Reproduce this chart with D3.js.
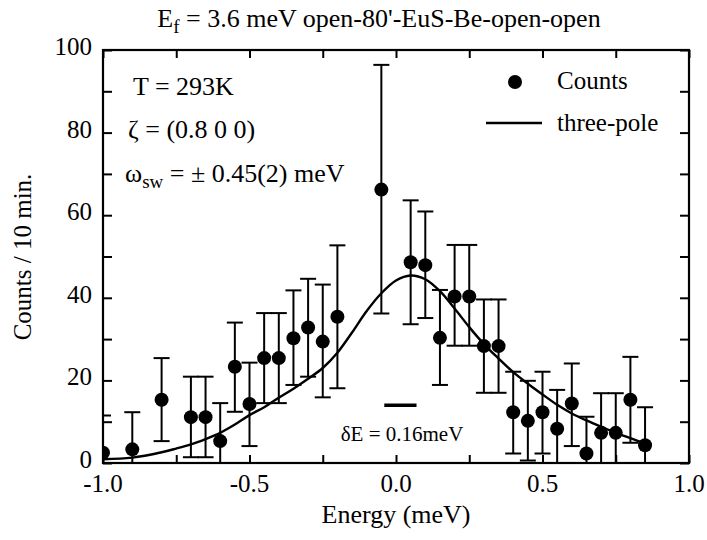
<!DOCTYPE html>
<html>
<head>
<meta charset="utf-8">
<script src="https://cdn.jsdelivr.net/npm/d3@7/dist/d3.min.js"></script>
<style>
  html, body { margin: 0; padding: 0; background: #fff; }
  svg text { font-family: "Liberation Serif", "Times New Roman", "DejaVu Serif", serif; fill: #000; }
</style>
</head>
<body>
<svg id="chart" width="707" height="540"></svg>
<script>
// ---- data ----
const energy = [-1.0, -0.9, -0.8, -0.7, -0.65, -0.6, -0.55, -0.5, -0.45, -0.4, -0.35, -0.3, -0.25, -0.2,
  -0.05, 0.05, 0.1, 0.15, 0.2, 0.25, 0.3, 0.35, 0.4, 0.45, 0.5, 0.55, 0.6, 0.65, 0.7, 0.75, 0.8, 0.85];
const counts = [2.5, 3.3, 15.3, 11.1, 11.1, 5.3, 23.3, 14.3, 25.4, 25.4, 30.2, 32.8, 29.4, 35.4,
  66.2, 48.6, 47.9, 30.3, 40.3, 40.3, 28.3, 28.3, 12.3, 10.2, 12.3, 8.3, 14.4, 2.3, 7.3, 7.3, 15.3, 4.3];
const errLow = [9, 9, 10, 9.7, 9.7, 9.5, 10.9, 10.2, 10.9, 10.9, 11.3, 11.9, 13.5, 17.3,
  30, 15, 12.8, 11.4, 11.9, 11.9, 11.3, 11.3, 10, 9.6, 10, 9.4, 10.3, 9, 9.6, 9.6, 10.4, 9.3];
const errHigh = [9, 9, 10.1, 9.8, 9.8, 9.2, 10.7, 10.0, 10.9, 10.9, 11.6, 11.8, 13.8, 17.3,
  30.2, 15.0, 13.0, 11.6, 12.5, 12.5, 11.3, 11.3, 9.8, 9.7, 9.8, 9.4, 9.7, 8.9, 9.6, 9.6, 10.4, 9.2];

const fitE = [-1.0, -0.9, -0.8, -0.75, -0.7, -0.65, -0.6, -0.55, -0.5, -0.45, -0.4, -0.35, -0.3, -0.25,
  -0.2, -0.15, -0.1, -0.05, 0.0, 0.05, 0.1, 0.15, 0.2, 0.25, 0.3, 0.35, 0.4, 0.45, 0.5, 0.55,
  0.6, 0.65, 0.7, 0.75, 0.8, 0.85];
const fitCounts = [0.9, 1.3, 2.6, 3.5, 4.5, 5.8, 7.3, 9.3, 11.6, 13.5, 15.8, 18.0, 20.4, 23.0,
  26.7, 31.6, 36.8, 41.1, 44.2, 45.4, 44.5, 41.6, 37.4, 32.9, 28.8, 25.3, 22.0, 19.2, 16.6, 14.1,
  12.0, 10.3, 8.8, 7.3, 6.0, 4.7];

const xTickLabels = ["-1.0", "-0.5", "0.0", "0.5", "1.0"];
const yTickLabels = ["0", "20", "40", "60", "80", "100"];
const resolutionBar = [-0.04, 0.07];
const resolutionLevel = 14;

// ---- layout ----
const svg = d3.select("#chart");
const L = 103, R = 689, T = 50, B = 463;
const x = d3.scaleLinear().domain([-1, 1]).range([L, R]);
const y = d3.scaleLinear().domain([0, 100]).range([B, T]);

svg.append("defs").append("clipPath").attr("id", "clip")
  .append("rect").attr("x", L).attr("y", T).attr("width", R - L).attr("height", B - T);

// ---- axes (inward ticks) ----
const xMajor = d3.range(-1, 1.0001, 0.5);
const xAll = d3.range(-1, 1.0001, 0.25);
const yMajor = d3.range(0, 100.001, 20);
const yAll = d3.range(0, 100.001, 10);

const axBottom = svg.append("g").attr("transform", `translate(0,${B})`)
  .call(d3.axisBottom(x).tickValues(xAll).tickSize(-8).tickFormat(""));
const axTop = svg.append("g").attr("transform", `translate(0,${T})`)
  .call(d3.axisTop(x).tickValues(xAll).tickSize(-8).tickFormat(""));
const axLeft = svg.append("g").attr("transform", `translate(${L},0)`)
  .call(d3.axisLeft(y).tickValues(yAll).tickSize(-9).tickFormat(""));
const axRight = svg.append("g").attr("transform", `translate(${R},0)`)
  .call(d3.axisRight(y).tickValues(yAll).tickSize(-9).tickFormat(""));
[axBottom, axTop, axLeft, axRight].forEach(g => {
  g.selectAll(".domain").remove();
  g.selectAll(".tick line").attr("stroke", "#000").attr("stroke-width", 2);
});

// x tick labels
svg.append("g").selectAll("text").data(xMajor).join("text")
  .attr("x", d => x(d)).attr("y", B + 29)
  .attr("text-anchor", "middle").attr("font-size", 25)
  .text((d, i) => xTickLabels[i]);
// y tick labels
svg.append("g").selectAll("text").data(yMajor).join("text")
  .attr("x", 92).attr("y", d => y(d) + 5)
  .attr("text-anchor", "end").attr("font-size", 25)
  .text((d, i) => yTickLabels[i]);

// frame
svg.append("rect").attr("x", L).attr("y", T).attr("width", R - L).attr("height", B - T)
  .attr("fill", "none").attr("stroke", "#000").attr("stroke-width", 2.2);

// ---- data ----
const plot = svg.append("g").attr("clip-path", "url(#clip)");
const pts = energy.map((e, i) => ({ e, c: counts[i], lo: counts[i] - errLow[i], hi: counts[i] + errHigh[i] }));

const eb = plot.append("g").attr("stroke", "#000").attr("stroke-width", 2);
pts.forEach(p => {
  eb.append("line").attr("x1", x(p.e)).attr("x2", x(p.e)).attr("y1", y(p.lo)).attr("y2", y(p.hi));
  eb.append("line").attr("x1", x(p.e) - 8).attr("x2", x(p.e) + 8).attr("y1", y(p.hi)).attr("y2", y(p.hi));
  eb.append("line").attr("x1", x(p.e) - 8).attr("x2", x(p.e) + 8).attr("y1", y(p.lo)).attr("y2", y(p.lo));
});

const fit = fitE.map((e, i) => [e, fitCounts[i]]);
plot.append("path").datum(fit)
  .attr("fill", "none").attr("stroke", "#000").attr("stroke-width", 2.4)
  .attr("d", d3.line().x(d => x(d[0])).y(d => y(d[1])).curve(d3.curveCatmullRom.alpha(0.5)));

plot.append("g").selectAll("circle").data(pts).join("circle")
  .attr("cx", d => x(d.e)).attr("cy", d => y(d.c)).attr("r", 7).attr("fill", "#000");

// resolution bar
svg.append("line")
  .attr("x1", x(resolutionBar[0])).attr("x2", x(resolutionBar[1]))
  .attr("y1", y(resolutionLevel)).attr("y2", y(resolutionLevel))
  .attr("stroke", "#000").attr("stroke-width", 3.5);
svg.append("text").attr("x", 402).attr("y", 441).attr("text-anchor", "middle").attr("font-size", 21)
  .text("\u03B4E = 0.16meV");

// ---- annotations ----
svg.append("text").attr("x", 133).attr("y", 95).attr("font-size", 26).text("T = 293K");
svg.append("text").attr("x", 128).attr("y", 138).attr("font-size", 26).text("\u03B6 = (0.8 0 0)");
const om = svg.append("text").attr("x", 125).attr("y", 182).attr("font-size", 26);
om.append("tspan").text("\u03C9");
om.append("tspan").attr("font-size", 19).attr("dy", 6).text("sw");
om.append("tspan").attr("dy", -6).text(" = \u00B1 0.45(2) meV");

// legend
svg.append("circle").attr("cx", 515).attr("cy", 82).attr("r", 7).attr("fill", "#000");
svg.append("text").attr("x", 557).attr("y", 89).attr("font-size", 25).text("Counts");
svg.append("line").attr("x1", 486).attr("x2", 542).attr("y1", 123).attr("y2", 123)
  .attr("stroke", "#000").attr("stroke-width", 2.4);
svg.append("text").attr("x", 557).attr("y", 131).attr("font-size", 25).text("three-pole");

// ---- titles ----
const title = svg.append("text").attr("x", 379).attr("y", 27).attr("text-anchor", "middle").attr("font-size", 26);
title.append("tspan").text("E");
title.append("tspan").attr("font-size", 19).attr("dy", 6).text("f");
title.append("tspan").attr("dy", -6).text(" = 3.6 meV open-80'-EuS-Be-open-open");

svg.append("text").attr("x", 396).attr("y", 523).attr("text-anchor", "middle").attr("font-size", 26)
  .text("Energy (meV)");
svg.append("text").attr("transform", "translate(31,257) rotate(-90)")
  .attr("text-anchor", "middle").attr("font-size", 25).text("Counts / 10 min.");
</script>
</body>
</html>
